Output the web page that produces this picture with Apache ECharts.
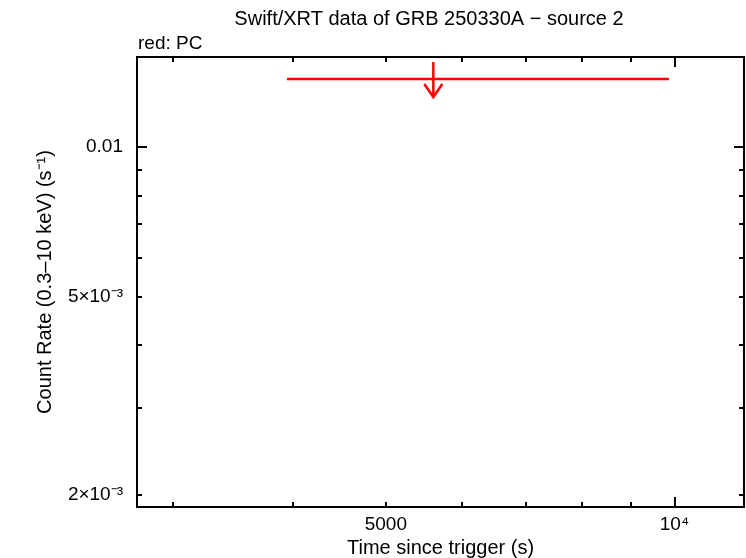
<!DOCTYPE html>
<html>
<head>
<meta charset="UTF-8">
<title>GRB 250330A source 2</title>
<script type="text/javascript" src="https://cdn.jsdelivr.net/npm/echarts@6/dist/echarts.min.js"></script>
<style>
  html, body { margin: 0; padding: 0; background: #fff; }
</style>
</head>
<body>
	<div id="box" style="width: 746px; height: 558px;"></div>

	<script type="text/javascript">
		// upper limit (PC mode): time, time range and count rate
		var ulTime = [5604];
		var ulTimeStart = [3943];
		var ulTimeEnd = [9869];
		var ulRate = [0.01369];

		// axis ranges (seconds, counts/s)
		var xRange = [2750, 11820];
		var yRange = [0.001893, 0.01516];

		// ticks
		var xMajorTicks = [10000];
		var xMinorTicks = [3000, 4000, 5000, 6000, 7000, 8000, 9000];
		var xLabelValues = [5000, 10000];
		var xLabelTexts = ['5000', '10\u2074'];

		var yMajorTicks = [0.01];
		var yMinorTicks = [0.009, 0.008, 0.007, 0.006, 0.005, 0.004, 0.003, 0.002];
		var yLabelValues = [0.01, 0.005, 0.002];
		var yLabelTexts = ['0.01', '5\u00d710\u207b\u00b3', '2\u00d710\u207b\u00b3'];

		var lg = Math.log10;
		var FONT = 'Liberation Sans, Arial, Helvetica, sans-serif';

		function pickLabel(values, texts) {
			return function (v) {
				for (var i = 0; i < values.length; i++) {
					if (Math.abs(lg(values[i]) - v) < 1e-6) return texts[i];
				}
				return '';
			};
		}

		// one axis for each tick set (major / minor, both sides)
		function makeAxis(dim, position, ticks, len, labelled) {
			var r = dim === 'x' ? xRange : yRange;
			var ax = {
				type: 'value',
				position: position,
				min: lg(r[0]),
				max: lg(r[1]),
				splitLine: { show: false },
				axisLine: { show: false },
				axisTick: {
					show: true,
					inside: true,
					length: len,
					customValues: ticks.map(lg),
					lineStyle: { color: '#000', width: 2 }
				},
				axisLabel: { show: false }
			};
			if (labelled) {
				var vals = dim === 'x' ? xLabelValues : yLabelValues;
				var txts = dim === 'x' ? xLabelTexts : yLabelTexts;
				ax.axisLabel = {
					show: true,
					customValues: vals.map(lg),
					formatter: pickLabel(vals, txts),
					color: '#000',
					fontFamily: FONT,
					fontSize: 19,
					margin: dim === 'x' ? 8 : 14
				};
			}
			return ax;
		}

		var xAxes = [
			makeAxis('x', 'bottom', xMajorTicks, 10, true),
			makeAxis('x', 'bottom', xMinorTicks, 5, false),
			makeAxis('x', 'top', xMajorTicks, 10, false),
			makeAxis('x', 'top', xMinorTicks, 5, false)
		];
		xAxes[0].name = 'Time since trigger (s)';
		xAxes[0].nameLocation = 'middle';
		xAxes[0].nameGap = 26;
		xAxes[0].nameTextStyle = { color: '#000', fontFamily: FONT, fontSize: 20 };

		var yAxes = [
			makeAxis('y', 'left', yMajorTicks, 10, true),
			makeAxis('y', 'left', yMinorTicks, 5, false),
			makeAxis('y', 'right', yMajorTicks, 10, false),
			makeAxis('y', 'right', yMinorTicks, 5, false)
		];
		yAxes[0].name = 'Count Rate (0.3\u201310 keV) (s\u207b\u00b9)';
		yAxes[0].nameLocation = 'middle';
		yAxes[0].nameGap = 82;
		yAxes[0].nameTextStyle = { color: '#000', fontFamily: FONT, fontSize: 20 };

		var ulData = [];
		for (var i = 0; i < ulTime.length; i++) {
			ulData.push([lg(ulTime[i]), lg(ulRate[i]), lg(ulTimeStart[i]), lg(ulTimeEnd[i])]);
		}

		var myChart = echarts.init(document.getElementById('box'));
		myChart.setOption({
			animation: false,
			backgroundColor: '#fff',
			grid: {
				left: 137, right: 2, top: 57, bottom: 51,
				outerBoundsMode: 'none',
				containLabel: false,
				show: true,
				borderColor: '#000',
				borderWidth: 2,
				backgroundColor: 'transparent'
			},
			graphic: [
				{
					type: 'text', x: 429, y: 19,
					style: { text: 'Swift/XRT data of GRB 250330A \u2212 source 2', fill: '#000',
						font: '20px ' + FONT, align: 'center', verticalAlign: 'middle' }
				},
				{
					type: 'text', x: 138, y: 44,
					style: { text: 'red: PC', fill: '#000',
						font: '19px ' + FONT, align: 'left', verticalAlign: 'middle' }
				}
			],
			xAxis: xAxes,
			yAxis: yAxes,
			series: [{
				type: 'custom',
				xAxisIndex: 0,
				yAxisIndex: 0,
				data: ulData,
				renderItem: function (params, api) {
					var p = api.coord([api.value(0), api.value(1)]);
					var a = api.coord([api.value(2), api.value(1)]);
					var b = api.coord([api.value(3), api.value(1)]);
					var st = { stroke: '#ff0000', lineWidth: 2.5, fill: null };
					return {
						type: 'group',
						children: [
							{ type: 'line', shape: { x1: a[0], y1: a[1], x2: b[0], y2: b[1] }, style: st },
							{ type: 'line', shape: { x1: p[0], y1: p[1] - 17, x2: p[0], y2: p[1] + 18 }, style: st },
							{ type: 'polyline', shape: { points: [[p[0] - 9, p[1] + 5], [p[0], p[1] + 18], [p[0] + 9, p[1] + 5]] }, style: st }
						]
					};
				}
			}]
		});
	</script>

</body>
</html>
